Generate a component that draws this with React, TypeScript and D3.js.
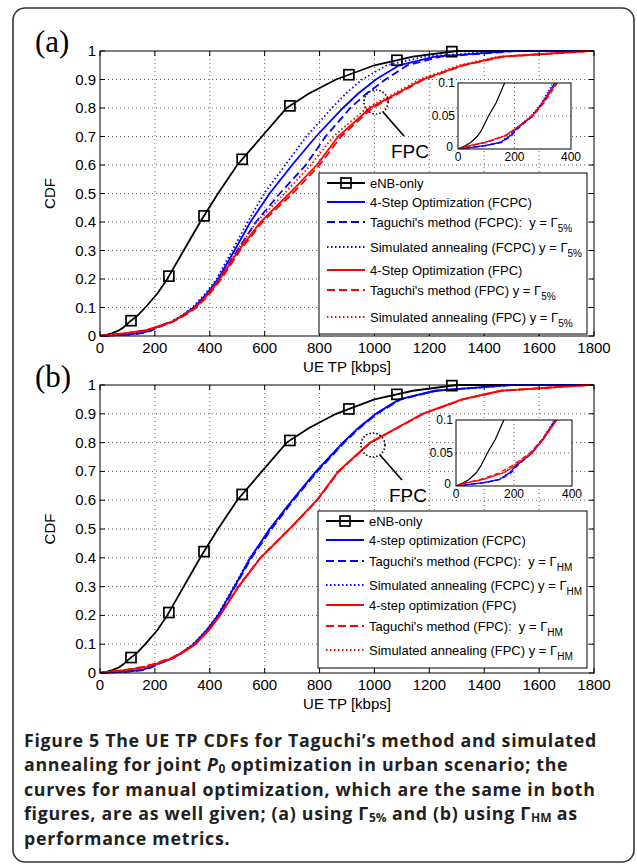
import React, { useEffect, useRef } from "react";
import * as d3 from "d3";

const cdfLevels = [0, 0.005, 0.01, 0.02, 0.03, 0.05, 0.07, 0.1, 0.15, 0.2, 0.3, 0.4, 0.5, 0.6, 0.7, 0.8, 0.85, 0.9, 0.95, 0.98, 1];

// UE TP [kbps] at each cdf level
const enbOnly = [0, 25, 45, 70, 85, 108, 135, 165, 210, 245, 305, 365, 430, 500, 590, 680, 760, 860, 1000, 1140, 1300];
const fourStepFcpc = [0, 95, 150, 185, 205, 262, 298, 342, 390, 430, 490, 548, 618, 700, 787, 885, 940, 1005, 1090, 1220, 1500];
const fourStepFpc = [0, 40, 95, 165, 200, 262, 300, 348, 398, 437, 505, 585, 690, 790, 868, 984, 1080, 1175, 1320, 1460, 1780];

// panel (a): gamma 5%
const taguchiFcpcA = [0, 100, 155, 190, 210, 265, 302, 347, 396, 436, 500, 568, 655, 750, 822, 912, 970, 1040, 1120, 1240, 1520];
const annealFcpcA = [0, 90, 145, 180, 200, 258, 295, 336, 385, 425, 482, 538, 598, 675, 752, 845, 895, 955, 1045, 1180, 1450];
const taguchiFpcA = [0, 45, 100, 170, 205, 265, 305, 352, 402, 442, 510, 592, 702, 800, 878, 992, 1085, 1180, 1325, 1470, 1790];
const annealFpcA = [0, 42, 98, 168, 203, 262, 300, 345, 395, 433, 500, 570, 672, 768, 850, 972, 1070, 1165, 1310, 1450, 1780];

// panel (b): gamma HM
const taguchiFcpcB = [0, 100, 155, 190, 210, 262, 300, 342, 392, 432, 492, 552, 625, 705, 792, 890, 945, 1010, 1095, 1225, 1500];
const annealFcpcB = [0, 92, 148, 183, 203, 257, 296, 338, 388, 428, 488, 546, 622, 702, 790, 888, 942, 1008, 1092, 1222, 1500];
const taguchiFpcB = [0, 35, 85, 150, 190, 255, 295, 345, 396, 436, 504, 584, 690, 792, 870, 986, 1082, 1178, 1322, 1462, 1780];
const annealFpcB = [0, 38, 90, 158, 195, 258, 298, 346, 397, 437, 505, 585, 692, 790, 869, 985, 1081, 1176, 1321, 1461, 1780];

const enbMarkerKbps = [113, 251, 379, 518, 692, 907, 1082, 1282];

const xTicks = [0, 200, 400, 600, 800, 1000, 1200, 1400, 1600, 1800];
const yTicks = [0, 0.1, 0.2, 0.3, 0.4, 0.5, 0.6, 0.7, 0.8, 0.9, 1];
const insetXTicks = [0, 200, 400];
const insetYTicks = [0, 0.05, 0.1];

const legendA = [
  { text: "eNB-only", sub: "" },
  { text: "4-Step Optimization (FCPC)", sub: "" },
  { text: "Taguchi's method (FCPC):  y = Γ", sub: "5%" },
  { text: "Simulated annealing (FCPC) y = Γ", sub: "5%" },
  { text: "4-Step Optimization (FPC)", sub: "" },
  { text: "Taguchi's method (FPC) y = Γ", sub: "5%" },
  { text: "Simulated annealing (FPC) y = Γ", sub: "5%" },
];
const legendB = [
  { text: "eNB-only", sub: "" },
  { text: "4-step optimization (FCPC)", sub: "" },
  { text: "Taguchi's method (FCPC):  y = Γ", sub: "HM" },
  { text: "Simulated annealing (FCPC) y = Γ", sub: "HM" },
  { text: "4-step optimization (FPC)", sub: "" },
  { text: "Taguchi's method (FPC):  y = Γ", sub: "HM" },
  { text: "Simulated annealing (FPC) y = Γ", sub: "HM" },
];

const captionLines = [
  [{ t: "Figure 5 The UE TP CDFs for Taguchi’s method and simulated" }],
  [{ t: "annealing for joint " }, { t: "P", it: true }, { t: "0", sub: true }, { t: " optimization in urban scenario; the" }],
  [{ t: "curves for manual optimization, which are the same in both" }],
  [{ t: "figures, are as well given; (a) using Γ" }, { t: "5%", sub: true }, { t: " and (b) using Γ" }, { t: "HM", sub: true }, { t: " as" }],
  [{ t: "performance metrics." }],
];

const BLUE = "#0000ff";
const RED = "#ff0000";
const SANS = "'Liberation Sans', Arial, sans-serif";
const DASH = "8,4";
const DOT = "1.5,2.5";

const panels = [
  {
    label: "(a)", labelY: 52,
    top: 51, bottom: 336, left: 100, right: 594,
    legend: legendA, legendBox: { x: 319, y: 173, w: 268, h: 161 },
    rows: [10, 29, 49, 74, 97, 117, 144],
    inset: { x: 458, y: 83, w: 113, h: 66 },
    circle: { cx: 376, cy: 102 }, fpc: { x: 391, y: 158 },
    series: [
      { values: enbOnly, color: "#000", dash: null },
      { values: fourStepFcpc, color: BLUE, dash: null },
      { values: taguchiFcpcA, color: BLUE, dash: DASH },
      { values: annealFcpcA, color: BLUE, dash: DOT },
      { values: fourStepFpc, color: RED, dash: null },
      { values: taguchiFpcA, color: RED, dash: DASH },
      { values: annealFpcA, color: RED, dash: DOT },
    ],
  },
  {
    label: "(b)", labelY: 387,
    top: 385, bottom: 673, left: 100, right: 594,
    legend: legendB, legendBox: { x: 318, y: 511, w: 269, h: 157 },
    rows: [10, 29, 50, 74, 94, 115, 139],
    inset: { x: 456, y: 420, w: 116, h: 66 },
    circle: { cx: 373, cy: 445 }, fpc: { x: 389, y: 502 },
    series: [
      { values: enbOnly, color: "#000", dash: null },
      { values: fourStepFcpc, color: BLUE, dash: null },
      { values: taguchiFcpcB, color: BLUE, dash: DASH },
      { values: annealFcpcB, color: BLUE, dash: DOT },
      { values: fourStepFpc, color: RED, dash: null },
      { values: taguchiFpcB, color: RED, dash: DASH },
      { values: annealFpcB, color: RED, dash: DOT },
    ],
  },
];

const toPoints = (values: number[]): [number, number][] =>
  values.map((v, i) => [v, cdfLevels[i]] as [number, number]).concat([[1800, 1]]);

// cdf of the eNB-only curve at a given throughput, so the markers sit on the line
const enbCdfAt = (kbps: number) => {
  const i = Math.max(1, d3.bisectRight(enbOnly, kbps));
  const x0 = enbOnly[i - 1], x1 = enbOnly[i];
  const t = (kbps - x0) / (x1 - x0);
  return cdfLevels[i - 1] + t * (cdfLevels[i] - cdfLevels[i - 1]);
};

const fmt = (v: number) => (v === 0 ? "0" : v === 1 ? "1" : String(+v.toFixed(2)));

const App: React.FC = () => {
  const svgRef = useRef<SVGSVGElement | null>(null);

  useEffect(() => {
    const svg = d3.select(svgRef.current);
    svg.selectAll("*").remove();

    svg.append("rect").attr("width", 637).attr("height", 865).attr("fill", "#fff");
    // outer frame
    svg.append("rect")
      .attr("x", 13).attr("y", 8).attr("width", 621).attr("height", 854)
      .attr("rx", 12).attr("fill", "none").attr("stroke", "#333").attr("stroke-width", 1.6);

    panels.forEach((p, pi) => {
      const x = d3.scaleLinear().domain([0, 1800]).range([p.left, p.right]);
      const y = d3.scaleLinear().domain([0, 1]).range([p.bottom, p.top]);
      const g = svg.append("g");

      // grid
      g.selectAll(".gx").data(xTicks.slice(1, -1)).join("line")
        .attr("x1", (d) => x(d)).attr("x2", (d) => x(d))
        .attr("y1", p.top).attr("y2", p.bottom)
        .attr("stroke", "#666").attr("stroke-width", 1).attr("stroke-dasharray", "1,3");
      g.selectAll(".gy").data(yTicks.slice(1, -1)).join("line")
        .attr("y1", (d) => y(d)).attr("y2", (d) => y(d))
        .attr("x1", p.left).attr("x2", p.right)
        .attr("stroke", "#666").attr("stroke-width", 1).attr("stroke-dasharray", "1,3");

      const line = d3.line<[number, number]>().x((d) => x(d[0])).y((d) => y(d[1]));

      p.series.forEach((s) => {
        g.append("path")
          .attr("d", line(toPoints(s.values)))
          .attr("fill", "none")
          .attr("stroke", s.color)
          .attr("stroke-width", 1.8)
          .attr("stroke-dasharray", s.dash);
      });

      // eNB-only markers
      g.selectAll(".mk").data(enbMarkerKbps).join("rect")
        .attr("x", (d) => x(d) - 5).attr("y", (d) => y(enbCdfAt(d)) - 5)
        .attr("width", 10).attr("height", 10)
        .attr("fill", "none").attr("stroke", "#000").attr("stroke-width", 1.7);

      // axes box and inward ticks
      g.append("rect")
        .attr("x", p.left).attr("y", p.top)
        .attr("width", p.right - p.left).attr("height", p.bottom - p.top)
        .attr("fill", "none").attr("stroke", "#000").attr("stroke-width", 1);
      g.selectAll(".tx").data(xTicks).join("path")
        .attr("d", (d) => `M${x(d)},${p.bottom}v-5M${x(d)},${p.top}v5`)
        .attr("stroke", "#000");
      g.selectAll(".ty").data(yTicks).join("path")
        .attr("d", (d) => `M${p.left},${y(d)}h5M${p.right},${y(d)}h-5`)
        .attr("stroke", "#000");

      g.selectAll(".lx").data(xTicks).join("text")
        .attr("x", (d) => x(d)).attr("y", p.bottom + 17)
        .attr("text-anchor", "middle")
        .style("font-family", SANS).style("font-size", "15px")
        .text((d) => d);
      g.selectAll(".ly").data(yTicks).join("text")
        .attr("x", p.left - 4).attr("y", (d) => y(d) + 5)
        .attr("text-anchor", "end")
        .style("font-family", SANS).style("font-size", "15px")
        .text((d) => fmt(d));

      g.append("text")
        .attr("transform", `translate(55,${(p.top + p.bottom) / 2}) rotate(-90)`)
        .attr("text-anchor", "middle")
        .style("font-family", SANS).style("font-size", "15px")
        .text("CDF");
      g.append("text")
        .attr("x", (p.left + p.right) / 2).attr("y", p.bottom + 36)
        .attr("text-anchor", "middle")
        .style("font-family", SANS).style("font-size", "15px")
        .text("UE TP [kbps]");

      g.append("text")
        .attr("x", 35).attr("y", p.labelY)
        .style("font-family", "'Liberation Serif', 'Times New Roman', serif").style("font-size", "31px")
        .text(p.label);

      // FPC annotation
      g.append("circle")
        .attr("cx", p.circle.cx).attr("cy", p.circle.cy).attr("r", 12)
        .attr("fill", "none").attr("stroke", "#000").attr("stroke-width", 1.6)
        .attr("stroke-dasharray", "1.5,2");
      g.append("line")
        .attr("x1", p.circle.cx + 7).attr("y1", p.circle.cy + 10)
        .attr("x2", p.fpc.x + 13).attr("y2", p.fpc.y - 22)
        .attr("stroke", "#000").attr("stroke-width", 1.6);
      g.append("text")
        .attr("x", p.fpc.x).attr("y", p.fpc.y)
        .style("font-family", SANS).style("font-size", "19px")
        .text("FPC");

      // inset
      const ins = p.inset;
      const ix = d3.scaleLinear().domain([0, 400]).range([ins.x, ins.x + ins.w]);
      const iy = d3.scaleLinear().domain([0, 0.1]).range([ins.y + ins.h, ins.y]);
      const ig = g.append("g");
      ig.append("rect")
        .attr("x", ins.x).attr("y", ins.y).attr("width", ins.w).attr("height", ins.h)
        .attr("fill", "#fff");
      ig.append("line")
        .attr("x1", ix(200)).attr("x2", ix(200)).attr("y1", ins.y).attr("y2", ins.y + ins.h)
        .attr("stroke", "#666").attr("stroke-dasharray", "1,3");
      ig.append("line")
        .attr("y1", iy(0.05)).attr("y2", iy(0.05)).attr("x1", ins.x).attr("x2", ins.x + ins.w)
        .attr("stroke", "#666").attr("stroke-dasharray", "1,3");
      const clipId = `inset-clip-${pi}`;
      ig.append("clipPath").attr("id", clipId)
        .append("rect").attr("x", ins.x).attr("y", ins.y).attr("width", ins.w).attr("height", ins.h);
      const iline = d3.line<[number, number]>().x((d) => ix(d[0])).y((d) => iy(d[1]));
      p.series.forEach((s) => {
        ig.append("path")
          .attr("clip-path", `url(#${clipId})`)
          .attr("d", iline(toPoints(s.values)))
          .attr("fill", "none")
          .attr("stroke", s.color)
          .attr("stroke-width", 1.2)
          .attr("stroke-dasharray", s.dash === DASH ? "5,3" : s.dash === DOT ? "1,2" : null);
      });
      ig.append("rect")
        .attr("x", ins.x).attr("y", ins.y).attr("width", ins.w).attr("height", ins.h)
        .attr("fill", "none").attr("stroke", "#000").attr("stroke-width", 1);
      ig.selectAll(".ilx").data(insetXTicks).join("text")
        .attr("x", (d) => ix(d)).attr("y", ins.y + ins.h + 12)
        .attr("text-anchor", "middle")
        .style("font-family", SANS).style("font-size", "12px")
        .text((d) => d);
      ig.selectAll(".ily").data(insetYTicks).join("text")
        .attr("x", (d) => (d === 0 ? ins.x - 5 : ins.x - 3)).attr("y", (d) => iy(d) + (d === 0 ? 2 : 4))
        .attr("text-anchor", "end")
        .style("font-family", SANS).style("font-size", "12px")
        .text((d) => fmt(d));

      // legend
      const lb = p.legendBox;
      const lg = g.append("g");
      lg.append("rect")
        .attr("x", lb.x).attr("y", lb.y).attr("width", lb.w).attr("height", lb.h)
        .attr("fill", "#fff").attr("stroke", "#000").attr("stroke-width", 1);
      p.legend.forEach((item, i) => {
        const s = p.series[i];
        const ry = lb.y + p.rows[i];
        lg.append("line")
          .attr("x1", lb.x + 8).attr("x2", lb.x + 46).attr("y1", ry).attr("y2", ry)
          .attr("stroke", s.color).attr("stroke-width", 1.8).attr("stroke-dasharray", s.dash);
        if (i === 0) {
          lg.append("rect")
            .attr("x", lb.x + 22).attr("y", ry - 5).attr("width", 10).attr("height", 10)
            .attr("fill", "none").attr("stroke", "#000").attr("stroke-width", 1.7);
        }
        const t = lg.append("text")
          .attr("x", lb.x + 51).attr("y", ry + 5)
          .style("font-family", SANS).style("font-size", "13px")
          .style("white-space", "pre");
        t.append("tspan").text(item.text);
        if (item.sub) {
          t.append("tspan").attr("dy", 5).style("font-size", "10px").text(item.sub);
        }
      });
    });

    // caption
    const cap = svg.append("g");
    captionLines.forEach((segs, li) => {
      const t = cap.append("text")
        .attr("x", 24).attr("y", 747 + li * 24.4)
        .style("font-family", "'Open Sans', 'Noto Sans', sans-serif")
        .style("font-weight", 700).style("font-size", "17.8px")
        .style("letter-spacing", "0.7px")
        .style("fill", "#231f20").style("white-space", "pre");
      let prevSub = false;
      segs.forEach((s: any) => {
        const sp = t.append("tspan").text(s.t);
        if (s.it) sp.style("font-style", "italic");
        if (s.sub) sp.attr("dy", 1.5).style("font-size", "12px").style("letter-spacing", "0px");
        else if (prevSub) sp.attr("dy", -1.5);
        prevSub = !!s.sub;
      });
    });
  }, []);

  return (
    <div style={{ position: "absolute", left: 0, top: 0 }}>
      <svg ref={svgRef} width={637} height={865} style={{ display: "block" }} />
    </div>
  );
};

export default App;
